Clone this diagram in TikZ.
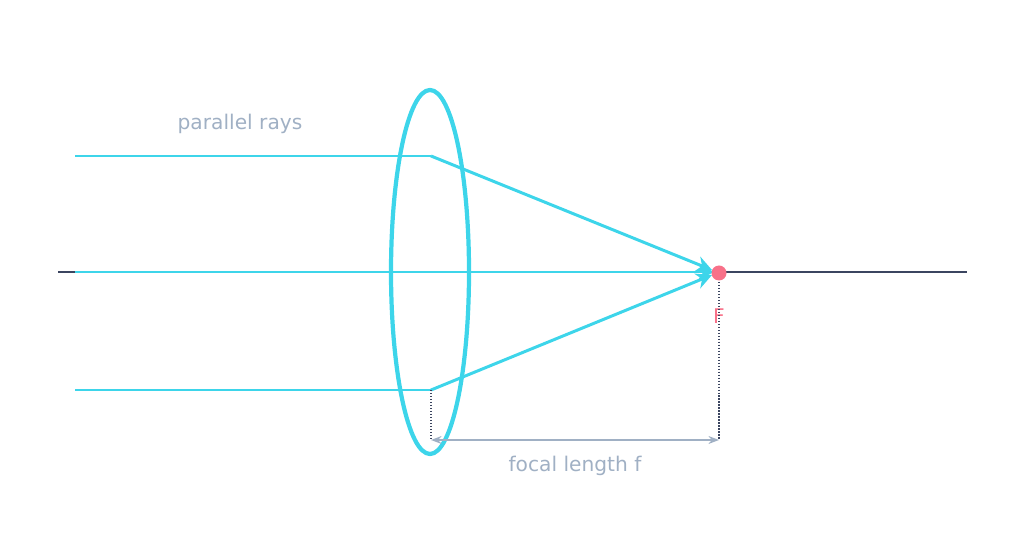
\documentclass[tikz,border=0pt]{standalone}
\usepackage{fontspec}
\setmainfont{DejaVu Sans}
\usetikzlibrary{arrows.meta}
\definecolor{raycyan}{HTML}{3DD5EA}
\definecolor{axisgray}{HTML}{3B4560}
\definecolor{labelgray}{HTML}{A0B0C4}
\definecolor{focuspink}{HTML}{F87189}
\tikzstyle{ray} = [raycyan,line width=1.7pt]
\tikzstyle{guide} = [axisgray,densely dotted,line width=0.7pt]
\tikzstyle{lbl} = [labelgray,font=\fontsize{11.5}{14}\selectfont]

\begin{document}
\begin{tikzpicture}[x=0.02cm,y=-0.02cm]
	\useasboundingbox (0,0) rectangle (1026,546);
	
	% optical axis
	\coordinate (axL) at (58,272);
	\coordinate (axR) at (967,272);
	\draw [axisgray,line width=0.8pt] (axL) -- (axR);
	
	% lens
	\draw [raycyan,line width=2.4pt] (430,272) ellipse [x radius=39,y radius=182];
	
	% focal point
	\coordinate (F) at (719,273);
	\coordinate (topIn) at (75,156);
	\coordinate (topLens) at (431,156);
	\coordinate (midIn) at (75,272);
	\coordinate (botIn) at (75,390);
	\coordinate (botLens) at (431,390);
	\coordinate (tipTop) at (712,270);
	\coordinate (tipMid) at (714,272);
	\coordinate (tipBot) at (712,275);
	
	% rays
	\draw [ray] (topIn) -- (topLens);
	\draw [ray,-{Stealth[length=9pt,width=9pt]}] (topLens) -- (tipTop);
	\draw [ray,-{Stealth[length=9pt,width=9pt]}] (midIn) -- (tipMid);
	\draw [ray] (botIn) -- (botLens);
	\draw [ray,-{Stealth[length=9pt,width=9pt]}] (botLens) -- (tipBot);
	
	\fill [focuspink] (F) circle (7.5);
	\node [focuspink,font=\fontsize{11.5}{14}\selectfont] (Flbl) at (719,316) {F};
	
	% focal length
	\coordinate (lensFoot) at (431,440);
	\coordinate (FFoot) at (719,440);
	\draw [guide] (botLens) -- (lensFoot);
	\draw [guide] (719,282) -- (FFoot);
	\draw [labelgray,line width=1.2pt,{Stealth[length=6pt]}-{Stealth[length=6pt]}] (lensFoot) -- (FFoot);
	\node [lbl] (flbl) at (575,466) {focal length f};
	\node [lbl] (plbl) at (240,124) {parallel rays};
\end{tikzpicture}
\end{document}
